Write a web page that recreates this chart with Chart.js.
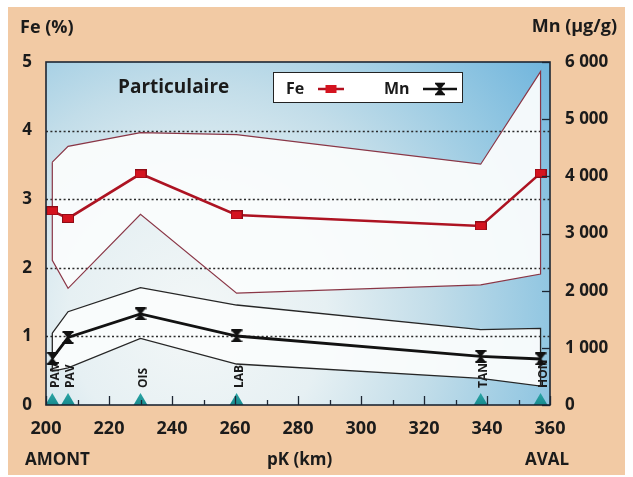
<!DOCTYPE html>
<html>
<head>
<meta charset="utf-8">
<script src="https://cdn.jsdelivr.net/npm/chart.js@4.4.1/dist/chart.umd.min.js"></script>
<style>
  html, body { margin: 0; padding: 0; background: #fff; width: 633px; height: 477px; overflow: hidden; font-family: 'Open Sans', sans-serif; }
  #panel { position: absolute; left: 8px; top: 7px; width: 617px; height: 468px; background: #f2caa4; }
  #chart { position: absolute; left: 0; top: 0; }
  .t { position: absolute; font-weight: 700; color: #1b1b1b; white-space: nowrap; line-height: 1; }
  #legend { position: absolute; left: 273px; top: 72px; width: 188px; height: 29px; background: #fff; border: 1.5px solid #222; }
  #legend .t { font-size: 16px; }
  #legend svg { position: absolute; }
</style>
</head>
<body>
<div id="panel"></div>
<canvas id="chart" width="633" height="477"></canvas>

<div class="t" style="left:20px;top:17px;font-size:18px">Fe (%)</div>
<div class="t" style="right:16px;top:16px;font-size:18px">Mn (μg/g)</div>
<div class="t" style="left:25px;top:450px;font-size:17px">AMONT</div>
<div class="t" style="left:267px;top:450px;font-size:17px">pK (km)</div>
<div class="t" style="left:525px;top:450px;font-size:17px">AVAL</div>
<div class="t" style="left:118px;top:77px;font-size:19px">Particulaire</div>

<div id="legend">
  <div class="t" style="left:12px;top:7px">Fe</div>
  <svg style="left:43px;top:9px" width="28" height="14">
    <line x1="1" y1="7" x2="27" y2="7" stroke="#b3101f" stroke-width="2.5"/>
    <rect x="8.5" y="3" width="11" height="8" fill="#d4131f"/>
  </svg>
  <div class="t" style="left:110px;top:7px">Mn</div>
  <svg style="left:148px;top:8px" width="36" height="16">
    <line x1="1" y1="8" x2="35" y2="8" stroke="#111" stroke-width="2.5"/>
    <path d="M13 2.5 H23 L18.6 8 L23 13.5 H13 L17.4 8 Z" fill="#111"/>
    <line x1="13" y1="2.5" x2="23" y2="2.5" stroke="#111" stroke-width="1.6"/>
    <line x1="13" y1="13.5" x2="23" y2="13.5" stroke="#111" stroke-width="1.6"/>
  </svg>
</div>

<script>
// Stations along the river (pK, km)
const stations = ['PAM', 'PAV', 'OIS', 'LAB', 'TAN', 'HON'];
const pk       = [202, 207, 230, 260.5, 338, 357];

// Particulate iron (%): mean with min / max envelope
const feMean = [2.83, 2.72, 3.37, 2.77, 2.61, 3.38];
const feMax  = [3.54, 3.77, 3.97, 3.94, 3.51, 4.86];
const feMin  = [2.11, 1.70, 2.78, 1.63, 1.75, 1.91];

// Particulate manganese (µg/g): mean with min / max envelope
const mnMean = [817, 1180, 1592, 1207, 850, 805];
const mnMax  = [1259, 1632, 2052, 1749, 1320, 1340];
const mnMin  = [590, 650, 1166, 717, 467, 332];

// Axis ticks
const xTicks  = { min: 200, max: 360, step: 10, labelEvery: 20 };
const feTicks = { min: 0, max: 5, step: 1 };
const mnTicks = { min: 0, max: 6000, step: 1000 };

const FONT = "'Open Sans', sans-serif";

// Points of a line
const series = (ys) => pk.map((x, i) => ({ x, y: ys[i] }));
// Closed outline: upper bound left→right, lower bound right→left
const envelope = (hi, lo) => {
  const up = series(hi);
  const down = series(lo).reverse();
  return up.concat(down, [up[0]]);
};

// Marker images
function feMarker() {
  const c = document.createElement('canvas');
  c.width = 12; c.height = 9;
  const g = c.getContext('2d');
  g.fillStyle = '#d4131f';
  g.fillRect(0, 0, 12, 9);
  g.strokeStyle = '#8f0b16';
  g.lineWidth = 1;
  g.strokeRect(0.5, 0.5, 11, 8);
  return c;
}
function mnMarker() {
  const c = document.createElement('canvas');
  c.width = 12; c.height = 13;
  const g = c.getContext('2d');
  g.fillStyle = '#111';
  g.fillRect(0.5, 0, 11, 2);
  g.fillRect(0.5, 11, 11, 2);
  g.beginPath();
  g.moveTo(1, 1); g.lineTo(11, 1); g.lineTo(6.8, 6.5); g.lineTo(11, 12); g.lineTo(1, 12); g.lineTo(5.2, 6.5);
  g.closePath();
  g.fill();
  return c;
}

// Plot decoration: background, dotted grid, station markers, ticks and frame
const decor = {
  id: 'decor',
  beforeDraw(chart) {
    const { ctx, chartArea: a } = chart;
    const cx = a.left + (a.right - a.left) * 0.3;
    const cy = a.top + (a.bottom - a.top) * 0.75;
    const g = ctx.createRadialGradient(cx, cy, 0, cx, cy, 430);
    g.addColorStop(0, '#f3f7f7');
    g.addColorStop(0.3, '#e6f0f3');
    g.addColorStop(0.55, '#c2dde9');
    g.addColorStop(0.8, '#95c8e2');
    g.addColorStop(1, '#72b6dd');
    ctx.save();
    ctx.fillStyle = g;
    ctx.fillRect(a.left, a.top, a.right - a.left, a.bottom - a.top);
    ctx.restore();
  },
  beforeDatasetsDraw(chart) {
    const { ctx, chartArea: a, scales } = chart;
    const yFe = scales.yFe, x = scales.x;
    ctx.save();
    // dotted grid on the Fe ticks
    ctx.strokeStyle = '#2b2b2b';
    ctx.lineWidth = 1.5;
    ctx.setLineDash([2, 2.4]);
    yFe.ticks.forEach(t => {
      if (t.value <= yFe.min || t.value >= yFe.max) return;
      const y = Math.round(yFe.getPixelForValue(t.value)) + 0.5;
      ctx.beginPath();
      ctx.moveTo(a.left, y);
      ctx.lineTo(a.right, y);
      ctx.stroke();
    });
    ctx.setLineDash([]);
    // station triangles and names
    stations.forEach((name, i) => {
      const px = x.getPixelForValue(pk[i]);
      const tg = ctx.createLinearGradient(0, a.bottom - 12, 0, a.bottom);
      tg.addColorStop(0, '#2aa5a5');
      tg.addColorStop(1, '#178a8e');
      ctx.fillStyle = tg;
      ctx.beginPath();
      ctx.moveTo(px - 7, a.bottom);
      ctx.lineTo(px + 7, a.bottom);
      ctx.lineTo(px, a.bottom - 12);
      ctx.closePath();
      ctx.fill();

      ctx.save();
      ctx.translate(px + 3, a.bottom - 17);
      ctx.rotate(-Math.PI / 2);
      ctx.font = '700 12px ' + FONT;
      ctx.fillStyle = '#1a1a1a';
      ctx.textAlign = 'left';
      ctx.textBaseline = 'middle';
      ctx.fillText(name, 0, 0);
      ctx.restore();
    });
    ctx.restore();
  },
  afterDatasetsDraw(chart) {
    const { ctx, chartArea: a, scales } = chart;
    const x = scales.x, yMn = scales.yMn;
    ctx.save();
    ctx.strokeStyle = '#1d2633';
    ctx.lineWidth = 1.3;
    // inward ticks on the pK axis
    x.ticks.forEach(t => {
      const px = Math.round(x.getPixelForValue(t.value)) + 0.5;
      const len = t.value % xTicks.labelEvery === 0 ? 9 : 5;
      ctx.beginPath();
      ctx.moveTo(px, a.bottom);
      ctx.lineTo(px, a.bottom - len);
      ctx.stroke();
    });
    // inward ticks on the Mn axis
    yMn.ticks.forEach(t => {
      const py = Math.round(yMn.getPixelForValue(t.value)) + 0.5;
      ctx.beginPath();
      ctx.moveTo(a.right, py);
      ctx.lineTo(a.right - 8, py);
      ctx.stroke();
    });
    // frame
    ctx.lineWidth = 1.6;
    ctx.strokeRect(a.left, a.top, a.right - a.left, a.bottom - a.top);
    ctx.restore();
  }
};

const tickFont = { family: FONT, size: 17, weight: '700' };
const spaced = v => String(v).replace(/\B(?=(\d{3})+(?!\d))/g, ' ');

new Chart(document.getElementById('chart'), {
  type: 'line',
  data: {
    datasets: [
      {
        label: 'Fe', data: series(feMean), yAxisID: 'yFe',
        borderColor: '#ad1322', borderWidth: 2.6, tension: 0,
        pointStyle: feMarker(), pointRadius: 5, fill: false, order: 0
      },
      {
        label: 'Mn', data: series(mnMean), yAxisID: 'yMn',
        borderColor: '#121212', borderWidth: 2.8, tension: 0,
        pointStyle: mnMarker(), pointRadius: 6, fill: false, order: 1
      },
      {
        label: 'Mn min-max', data: envelope(mnMax, mnMin), yAxisID: 'yMn',
        borderColor: '#262626', borderWidth: 1.3, tension: 0, pointRadius: 0,
        backgroundColor: 'rgba(250,252,252,0.95)', fill: 'shape', order: 2
      },
      {
        label: 'Fe min-max', data: envelope(feMax, feMin), yAxisID: 'yFe',
        borderColor: '#8a3646', borderWidth: 1.2, tension: 0, pointRadius: 0,
        backgroundColor: 'rgba(250,252,252,0.95)', fill: 'shape', order: 3
      }
    ]
  },
  options: {
    responsive: false,
    animation: false,
    layout: { padding: { top: 62, left: 0, right: 0, bottom: 0 } },
    plugins: {
      legend: { display: false },
      tooltip: { enabled: false },
      filler: { drawTime: 'beforeDatasetsDraw' }
    },
    scales: {
      x: {
        type: 'linear', position: 'bottom',
        min: xTicks.min, max: xTicks.max,
        grid: { display: false, drawTicks: false },
        border: { display: false },
        ticks: {
          stepSize: xTicks.step, autoSkip: false, maxRotation: 0, padding: 13,
          color: '#1b1b1b', font: { family: FONT, size: 18, weight: '700' },
          callback: v => (v % xTicks.labelEvery === 0 ? String(v) : '')
        },
        afterFit: s => { s.height = 72; }
      },
      yFe: {
        type: 'linear', position: 'left',
        min: feTicks.min, max: feTicks.max,
        grid: { display: false, drawTicks: false },
        border: { display: false },
        ticks: { stepSize: feTicks.step, padding: 14, color: '#1b1b1b', font: tickFont },
        afterFit: s => { s.width = 46; }
      },
      yMn: {
        type: 'linear', position: 'right',
        min: mnTicks.min, max: mnTicks.max,
        grid: { display: false, drawTicks: false },
        border: { display: false },
        ticks: { stepSize: mnTicks.step, padding: 15, color: '#1b1b1b', font: tickFont, callback: spaced },
        afterFit: s => { s.width = 83; }
      }
    }
  },
  plugins: [decor]
});
</script>
</body>
</html>
